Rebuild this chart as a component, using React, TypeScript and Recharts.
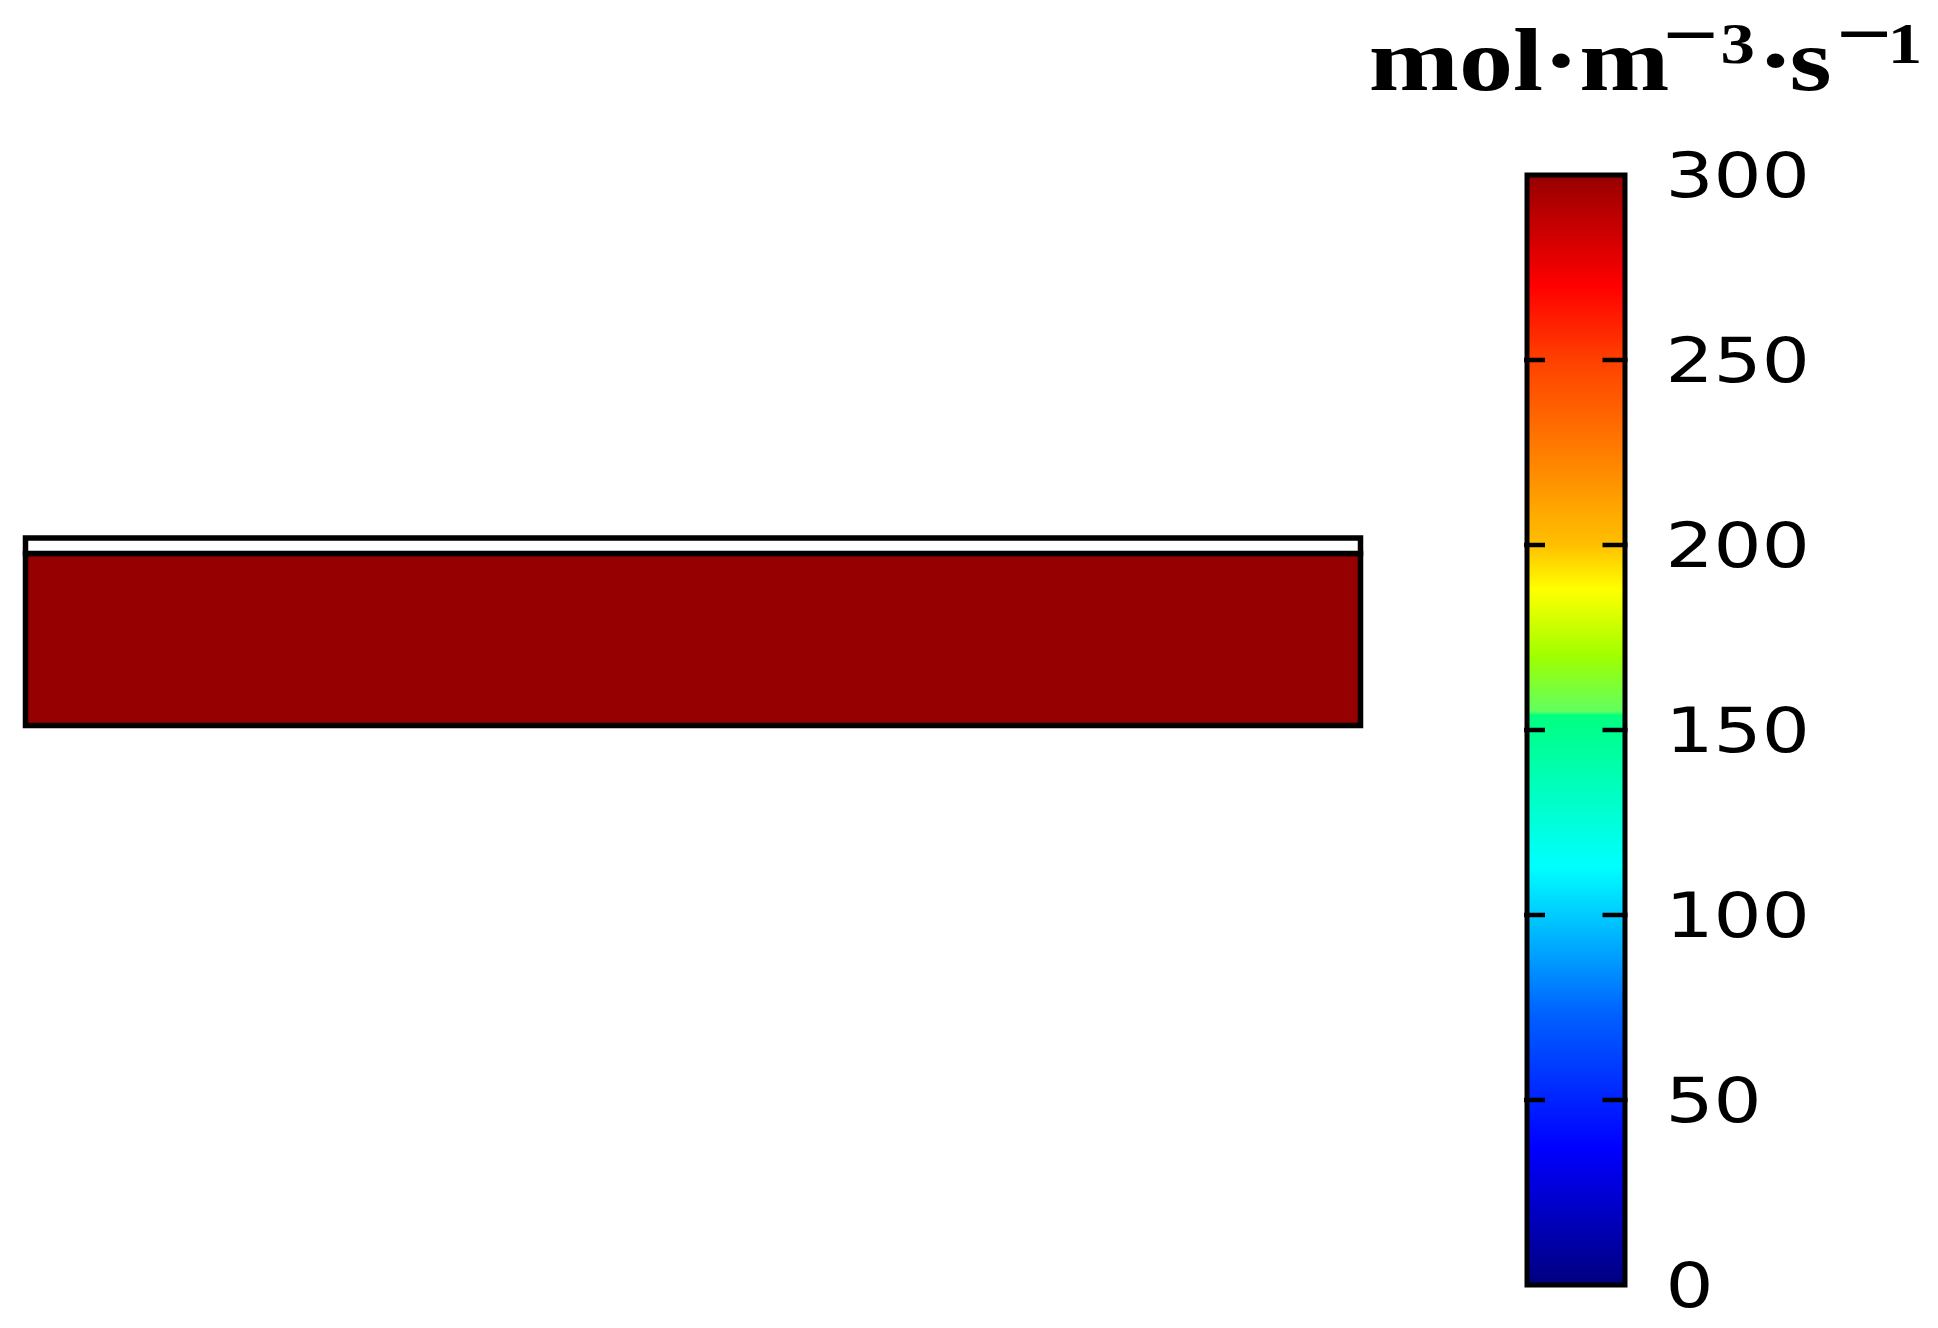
import React from 'react';
import { ComposedChart, Bar, XAxis, YAxis, ReferenceArea, ReferenceLine, Label } from 'recharts';

const W = 1938;
const H = 1328;
const PAD = 6; // room inside the plot area so heavy outlines are not clipped

// slab geometry (arbitrary length units), one entry per layer
const layerNames = ['catalyst', 'membrane'];
const layerBottom = [0, 1.0];
const layerTop = [1.0, 1.09];
const layerRate: (number | null)[] = [300, null];
const slabLength = 10;

// colour scale
const scaleMax = 300;
const scaleTicks = [0, 50, 100, 150, 200, 250, 300];
const stopValues = [300, 270, 250, 224, 200, 188, 170, 155, 154, 113, 73, 37, 0];
const stopColors = [
  '#960000', '#ff0000', '#ff4000', '#ff8000', '#ffc000', '#ffff00', '#a0ff00',
  '#60ff60', '#00ff80', '#00ffff', '#0060ff', '#0000ff', '#000080',
];

// value -> colour of the nearest stop (only used for uniform layers)
const colorFor = (v: number | null) => {
  if (v == null) return '#ffffff';
  let best = 0;
  stopValues.forEach((s, i) => {
    if (Math.abs(s - v) < Math.abs(stopValues[best] - v)) best = i;
  });
  return stopColors[best];
};

const layers = layerNames.map((name, i) => ({
  name,
  bottom: layerBottom[i],
  top: layerTop[i],
  rate: layerRate[i],
}));

const slabRows = layers.map((l) => ({ x: slabLength, y: l.top }));
const barRows = [{ name: 'rate', value: scaleMax }];

// rectangle with a heavy outline, used for the slab layers
const outlined = (fill: string, sw: number) => (props: any) => {
  const { x, y, width, height } = props;
  return (
    <rect x={x} y={y} width={width} height={height} fill={fill} stroke="#000" strokeWidth={sw} />
  );
};

// the colour bar itself: gradient with a black frame
const GradientBar = (props: any) => {
  const { x, y, width, height } = props;
  return (
    <rect x={x} y={y} width={width} height={height} fill="url(#jet)" stroke="#000" strokeWidth={5} />
  );
};

// short inward marks at both ends of a reference line
const InwardTick = (props: any) => {
  const { x1, x2, y1 } = props;
  const l = Math.min(x1, x2) + PAD;
  const r = Math.max(x1, x2) - PAD;
  return (
    <g>
      <line x1={l - 3} x2={l + 18} y1={y1} y2={y1} stroke="#000" strokeWidth={4.5} />
      <line x1={r - 22} x2={r + 3} y1={y1} y2={y1} stroke="#000" strokeWidth={4.5} />
    </g>
  );
};

const ScaleTick = (props: any) => {
  const { x, y, payload } = props;
  return (
    <text
      transform={`translate(${x},${y}) scale(1.22,1)`}
      dy="0.36em"
      fontFamily="DejaVu Sans"
      fontSize={62}
      fill="#000"
    >
      {payload.value}
    </text>
  );
};

const UnitTitle = () => (
  <text
    transform="translate(1370,90) scale(1.23,1)"
    fontFamily="Liberation Serif"
    fontWeight="bold"
    fontSize={88}
    fill="#000"
  >
    <tspan x={-1} y={0}>mol·m</tspan>
    <tspan x={238} y={-28} fontSize={80}>−</tspan>
    <tspan x={285} y={-27} fontSize={56}>3</tspan>
    <tspan x={315} y={0}>·</tspan>
    <tspan x={341} y={0}>s</tspan>
    <tspan x={379} y={-29} fontSize={80}>−</tspan>
    <tspan x={421} y={-27} fontSize={56}>1</tspan>
  </text>
);

export default function App() {
  return (
    <div style={{ position: 'absolute', left: 0, top: 0, width: W, height: H, background: '#fff' }}>
      {/* the slab */}
      <div style={{ position: 'absolute', left: 0, top: 0 }}>
        <ComposedChart
          width={W}
          height={H}
          data={slabRows}
          margin={{
            top: 538 - PAD,
            right: W - 1360.5 - PAD,
            bottom: H - 725.5 - PAD,
            left: 25.5 - PAD,
          }}
        >
          <XAxis
            type="number"
            dataKey="x"
            domain={[0, slabLength]}
            allowDataOverflow
            padding={{ left: PAD, right: PAD }}
            hide
          />
          <YAxis
            type="number"
            dataKey="y"
            domain={[0, layerTop[layerTop.length - 1]]}
            allowDataOverflow
            padding={{ top: PAD, bottom: PAD }}
            hide
          />
          {layers.map((l) => (
            <ReferenceArea
              key={l.name}
              x1={0}
              x2={slabLength}
              y1={l.bottom}
              y2={l.top}
              ifOverflow="visible"
              shape={outlined(colorFor(l.rate), 5.5)}
            />
          ))}
        </ComposedChart>
      </div>

      {/* the colour bar */}
      <div style={{ position: 'absolute', left: 0, top: 0 }}>
        <ComposedChart
          width={W}
          height={H}
          data={barRows}
          barCategoryGap={0}
          margin={{
            top: 175 - PAD,
            right: W - 1624.5 - 300 - PAD,
            bottom: H - 1285 - PAD,
            left: 1527 - PAD,
          }}
        >
          <defs>
            <linearGradient id="jet" x1="0" y1="0" x2="0" y2="1">
              {stopValues.map((v, i) => (
                <stop key={i} offset={(scaleMax - v) / scaleMax} stopColor={stopColors[i]} />
              ))}
            </linearGradient>
          </defs>
          <XAxis dataKey="name" padding={{ left: PAD, right: PAD }} hide />
          <YAxis
            yAxisId="v"
            orientation="right"
            width={300}
            domain={[0, scaleMax]}
            padding={{ top: PAD, bottom: PAD }}
            ticks={scaleTicks}
            tick={<ScaleTick />}
            tickLine={false}
            axisLine={false}
            tickSize={0}
            tickMargin={41 - PAD}
          >
            <Label content={<UnitTitle />} />
          </YAxis>
          <Bar
            yAxisId="v"
            dataKey="value"
            shape={GradientBar}
            isAnimationActive={false}
          />
          {scaleTicks.slice(1, -1).map((t) => (
            <ReferenceLine
              key={t}
              yAxisId="v"
              y={t}
              ifOverflow="visible"
              shape={InwardTick}
            />
          ))}
        </ComposedChart>
      </div>
    </div>
  );
}
